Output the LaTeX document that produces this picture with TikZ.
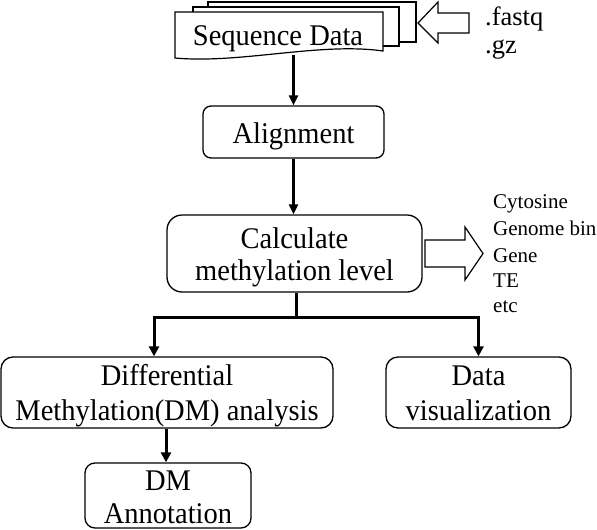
\documentclass[tikz,border=0pt]{standalone}
\usepackage{fontspec}
\setmainfont{Liberation Serif}
\newfontfamily\bigserif[FakeStretch=0.95]{Liberation Serif}
\usetikzlibrary{arrows.meta}
\begin{document}
\begin{tikzpicture}[x=1pt,y=-1pt,
  box/.style={draw, line width=1.3pt, rounded corners=#1, inner sep=0pt},
  box/.default=10pt,
  big/.style={font=\bigserif\fontsize{30}{33}\selectfont, inner sep=0pt},
  mid/.style={font=\fontsize{26.5}{30}\selectfont, inner sep=0pt, anchor=base west},
  small/.style={font=\fontsize{21}{26}\selectfont, inner sep=0pt, anchor=base west},
  doc/.style={draw, fill=white, line width=1.2pt},
  blockarrow/.style={draw, fill=white, line width=1.2pt, line join=miter},
  arr/.style={-{Triangle[length=10pt,width=9pt]}, line width=2.3pt},
  brarr/.style={-{Triangle[length=10pt,width=10pt]}, line width=3pt},
  brline/.style={line width=3pt}]
\useasboundingbox (0,0) rectangle (597,530);
\fill[white] (0,0) rectangle (597,530);

% stacked documents
\path[doc] (208,2) rectangle (416,42);
\path[doc] (193,7) rectangle (399,46);
\path[doc] (175,12) -- (383,12) -- (383,51) .. controls (320,42) and (240,64) .. (175,58) -- cycle;
\node[big, anchor=base] (seq) at (278,45) {Sequence Data};
\coordinate (seqbot) at (293.5,55);

% input block arrow
\path[blockarrow] (418,23) -- (438,2) -- (438,13) -- (469,13) -- (469,33) -- (438,33) -- (438,43) -- cycle;
\node[mid] (fastq) at (485,25) {.fastq};
\node[mid] (gz) at (485,53) {.gz};

% alignment
\node[box=8pt, minimum width=181pt, minimum height=52pt] (align) at (293.5,132) {};
\node[big, anchor=base] (alignT) at (293.5,143) {Alignment};

% calculate
\node[box=15pt, minimum width=255pt, minimum height=77pt] (calc) at (294.5,253.5) {};
\node[big, anchor=base] (calcT1) at (294.5,248) {Calculate};
\node[big, anchor=base] (calcT2) at (294.5,280) {methylation level};

% output block arrow
\path[blockarrow] (425,240) -- (465,240) -- (465,227) -- (483,253.5) -- (465,280) -- (465,267) -- (425,267) -- cycle;
\node[small] (l1) at (493,208) {Cytosine};
\node[small] (l2) at (493,235) {Genome bin};
\node[small] (l3) at (493,262) {Gene};
\node[small] (l4) at (493,287) {TE};
\node[small] (l5) at (493,312) {etc};

% differential
\node[box=12pt, minimum width=332pt, minimum height=71pt] (diff) at (167,392.5) {};
\node[big, anchor=base] (diffT1) at (167,385) {Differential};
\node[big, anchor=base] (diffT2) at (167,420) {Methylation(DM) analysis};

% visualization
\node[box=12pt, minimum width=185pt, minimum height=71pt] (viz) at (478.5,392.5) {};
\node[big, anchor=base] (vizT1) at (478.5,385) {Data};
\node[big, anchor=base] (vizT2) at (478.5,420) {visualization};

% DM annotation
\node[box=10pt, minimum width=166pt, minimum height=65pt] (dm) at (168,495.5) {};
\node[big, anchor=base] (dmT1) at (168,490) {DM};
\node[big, anchor=base] (dmT2) at (168,523) {Annotation};

% connectors
\draw[arr] (seqbot) -- (seqbot |- align.north);
\draw[arr] (align.south) -- (align.south |- calc.north);
\coordinate (split) at (296,317);
\draw[brline] (calc.south -| split) -- (split);
\draw[brarr] (split) -| ([xshift=-13pt]diff.north);
\draw[brarr] (split) -| (viz.north);
\draw[brarr] ([xshift=-1pt]diff.south) -- ([xshift=-1pt]diff.south |- dm.north);
\end{tikzpicture}
\end{document}
